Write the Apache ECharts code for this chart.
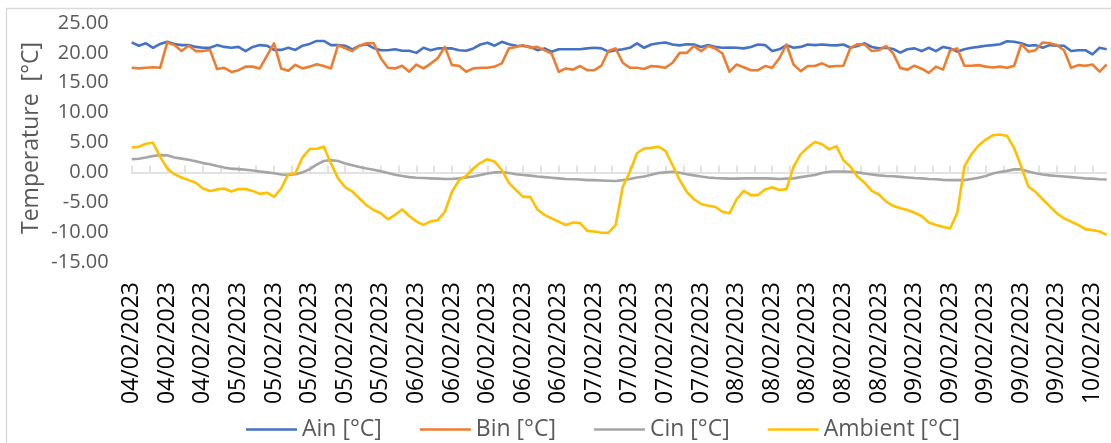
<!DOCTYPE html>
<html>
<head>
<meta charset="utf-8">
<script src="https://cdn.jsdelivr.net/npm/echarts@6/dist/echarts.min.js"></script>
<style>
html,body{margin:0;padding:0;background:#fff;}
#chart{width:1111px;height:443px;}
</style>
</head>
<body>
<div id="chart"></div>
<script>
// Category labels: one reading per hour, day label per reading
const days = ['04/02/2023','05/02/2023','06/02/2023','07/02/2023','08/02/2023','09/02/2023','10/02/2023'];
const readingsPerDay = [13, 24, 24, 24, 24, 24, 5];

const ain = [
21.75,21.2,21.6,20.85,21.5,21.85,21.5,21.3,21.3,21.0,
20.85,20.85,21.3,21.0,20.85,21.0,20.3,21.0,21.3,21.2,
20.5,20.5,20.85,20.5,21.2,21.5,22.0,22.0,21.3,21.3,
21.2,20.6,21.2,21.45,20.8,20.45,20.45,20.6,20.35,20.35,
20.0,20.85,20.45,20.75,20.75,20.75,20.45,20.35,20.75,21.4,
21.7,21.2,21.85,21.45,21.2,21.15,21.0,20.45,20.75,20.2,
20.6,20.6,20.6,20.6,20.75,20.85,20.75,20.2,20.45,20.6,
20.85,21.6,20.85,21.4,21.6,21.75,21.4,21.25,21.45,21.4,
21.0,21.3,21.0,20.85,20.9,20.85,20.75,21.0,21.4,21.3,
20.3,20.6,21.3,20.85,21.0,21.4,21.3,21.4,21.3,21.25,
21.4,20.85,21.15,21.6,21.0,20.75,20.85,20.65,20.05,20.6,
20.75,20.3,20.85,20.3,21.0,20.75,20.2,20.6,20.85,21.0,
21.2,21.3,21.45,21.95,21.85,21.6,21.2,21.3,20.85,21.3,
21.2,21.2,20.3,20.45,20.45,19.75,20.85,20.6
];
const bin = [
17.5,17.4,17.5,17.6,17.5,21.75,21.3,20.3,21.2,20.3,
20.3,20.5,17.3,17.5,16.8,17.1,17.7,17.7,17.4,19.5,
21.6,17.4,17.0,18.0,17.4,17.7,18.1,17.8,17.4,21.3,
20.75,20.3,21.2,21.6,21.6,19.1,17.5,17.4,17.85,16.85,
18.05,17.4,18.2,19.1,21.0,17.95,17.85,16.85,17.4,17.5,
17.5,17.7,18.25,20.75,21.0,21.3,20.85,21.0,20.45,19.9,
16.85,17.4,17.2,17.8,17.1,17.1,17.85,20.35,20.75,18.35,
17.5,17.5,17.3,17.8,17.7,17.5,18.35,20.0,20.0,21.15,
20.3,21.15,20.75,19.9,16.85,18.05,17.6,17.1,17.1,17.8,
17.5,19.1,21.4,18.05,16.95,17.8,17.8,18.25,17.7,17.8,
17.85,20.85,21.45,21.4,20.3,20.45,21.15,19.9,17.45,17.2,
17.85,17.35,16.65,17.7,17.2,20.45,20.75,17.85,17.85,17.95,
17.7,17.55,17.7,17.5,17.85,21.45,20.2,20.45,21.75,21.6,
21.3,20.45,17.5,17.95,17.85,18.05,16.85,18.05
];
const cin = [
2.2,2.28,2.5,2.75,2.88,2.85,2.5,2.3,2.1,1.85,
1.55,1.35,1.05,0.8,0.62,0.55,0.45,0.3,0.15,0.0,
-0.15,-0.35,-0.43,-0.3,0.0,0.55,1.3,1.9,2.05,1.9,
1.5,1.2,0.9,0.65,0.45,0.2,-0.1,-0.4,-0.6,-0.8,
-0.9,-0.95,-1.0,-1.05,-1.1,-1.1,-1.0,-0.85,-0.7,-0.45,
-0.2,0.0,0.05,-0.1,-0.3,-0.45,-0.55,-0.7,-0.8,-0.9,
-1.0,-1.1,-1.15,-1.2,-1.3,-1.3,-1.35,-1.4,-1.45,-1.3,
-1.1,-0.85,-0.7,-0.4,-0.1,0.0,0.1,-0.05,-0.3,-0.5,
-0.7,-0.85,-0.95,-1.0,-1.05,-1.05,-1.0,-1.0,-1.0,-1.0,
-1.05,-1.1,-1.05,-1.0,-0.8,-0.6,-0.45,-0.1,0.1,0.15,
0.15,0.1,0.0,-0.2,-0.35,-0.5,-0.6,-0.65,-0.75,-0.85,
-0.95,-1.0,-1.1,-1.15,-1.25,-1.3,-1.3,-1.3,-1.1,-0.9,
-0.6,-0.2,0.05,0.25,0.5,0.5,0.15,-0.15,-0.35,-0.5,
-0.6,-0.7,-0.8,-0.9,-1.0,-1.05,-1.15,-1.2
];
const ambient = [
4.15,4.3,4.8,4.95,2.6,0.65,-0.3,-0.85,-1.3,-1.75,
-2.7,-3.1,-2.85,-2.7,-3.2,-2.8,-2.8,-3.1,-3.6,-3.4,
-4.1,-2.7,-0.3,-0.15,2.5,3.9,3.95,4.3,1.5,-1.0,
-2.5,-3.2,-4.4,-5.5,-6.3,-6.85,-7.85,-7.1,-6.2,-7.3,
-8.2,-8.8,-8.2,-8.0,-6.6,-3.25,-1.3,-0.6,0.65,1.6,
2.2,1.8,0.4,-1.75,-2.95,-4.1,-4.1,-6.2,-7.1,-7.7,
-8.25,-8.8,-8.4,-8.5,-9.8,-9.9,-10.1,-10.1,-8.8,-2.4,
0.1,3.2,4.0,4.1,4.3,3.6,1.2,-1.3,-3.25,-4.5,
-5.3,-5.6,-5.75,-6.6,-6.85,-4.5,-3.1,-3.8,-3.8,-2.85,
-2.5,-2.95,-2.8,0.95,3.05,4.15,5.1,4.7,3.85,4.4,
2.05,0.95,-0.75,-1.75,-3.1,-3.7,-4.9,-5.6,-6.0,-6.3,
-6.75,-7.3,-8.4,-8.8,-9.1,-9.4,-6.75,0.95,3.05,4.5,
5.5,6.2,6.35,6.1,4.05,0.95,-2.4,-3.25,-4.5,-5.7,
-6.85,-7.7,-8.25,-8.8,-9.5,-9.65,-9.9,-10.45
];
const seriesNames = ['Ain [°C]', 'Bin [°C]', 'Cin [°C]', 'Ambient [°C]'];
const yTicks = { min: -15, max: 25, step: 5 };

const categories = [];
days.forEach((d, k) => { for (let j = 0; j < readingsPerDay[k]; j++) categories.push(d); });
// half-step positions for the tick axis (ticks every 2.5 readings)
const halfSteps = [];
for (let i = 0; i <= 2 * (categories.length - 1); i++) halfSteps.push(String(i));

const font = '"Open Sans", "Liberation Sans", sans-serif';
const chart = echarts.init(document.getElementById('chart'), null, { renderer: 'canvas' });
const colors = ['#4472C4', '#ED7D31', '#A5A5A5', '#FFC000'];
const datasets = [ain, bin, cin, ambient];

chart.setOption({
  animation: false,
  backgroundColor: '#fff',
  color: colors,
  graphic: [{
    type: 'rect', silent: true, z: -10,
    shape: { x: 6.5, y: 8.5, width: 1200, height: 500 },
    style: { fill: 'none', stroke: '#D9D9D9', lineWidth: 1.3 }
  }],
  grid: { left: 131.7, right: 4.3, top: 23, bottom: 181, containLabel: false },
  legend: {
    left: 241, top: 413,
    icon: 'rect', itemWidth: 51, itemHeight: 2.5, itemGap: 38,
    textStyle: { fontFamily: font, fontSize: 23, color: '#595959' },
    data: seriesNames
  },
  xAxis: [{
    type: 'category', data: categories, boundaryGap: false, position: 'bottom',
    axisLine: { show: false, onZero: false },
    axisTick: { show: false },
    splitLine: { show: false },
    axisLabel: { interval: 4, rotate: 90, margin: 20, fontFamily: font, fontSize: 23, color: '#000' }
  }, {
    type: 'category', data: halfSteps, boundaryGap: false, position: 'bottom',
    axisLine: { show: true, onZero: true, lineStyle: { color: '#D9D9D9', width: 1.5 } },
    axisTick: { show: true, interval: 4, inside: true, length: 7, lineStyle: { color: '#D9D9D9', width: 1.5 } },
    axisLabel: { show: false },
    splitLine: { show: false }
  }],
  yAxis: {
    type: 'value', min: yTicks.min, max: yTicks.max, interval: yTicks.step,
    name: 'Temperature  [°C]', nameLocation: 'middle', nameGap: 89, nameRotate: 90,
    nameMoveOverlap: false,
    nameTextStyle: { fontFamily: font, fontSize: 23, color: '#595959', padding: [0, 0, 0, 9] },
    axisLine: { show: false }, axisTick: { show: false }, splitLine: { show: false },
    axisLabel: { margin: 23, fontFamily: font, fontSize: 20, color: '#595959', formatter: v => v.toFixed(2) }
  },
  series: seriesNames.map((n, k) => ({
    name: n, type: 'line', xAxisIndex: 0, data: datasets[k],
    symbol: 'none', smooth: false, z: 2 + k,
    lineStyle: { width: 2.6, color: colors[k], join: 'round' }
  }))
});
</script>
</body>
</html>
